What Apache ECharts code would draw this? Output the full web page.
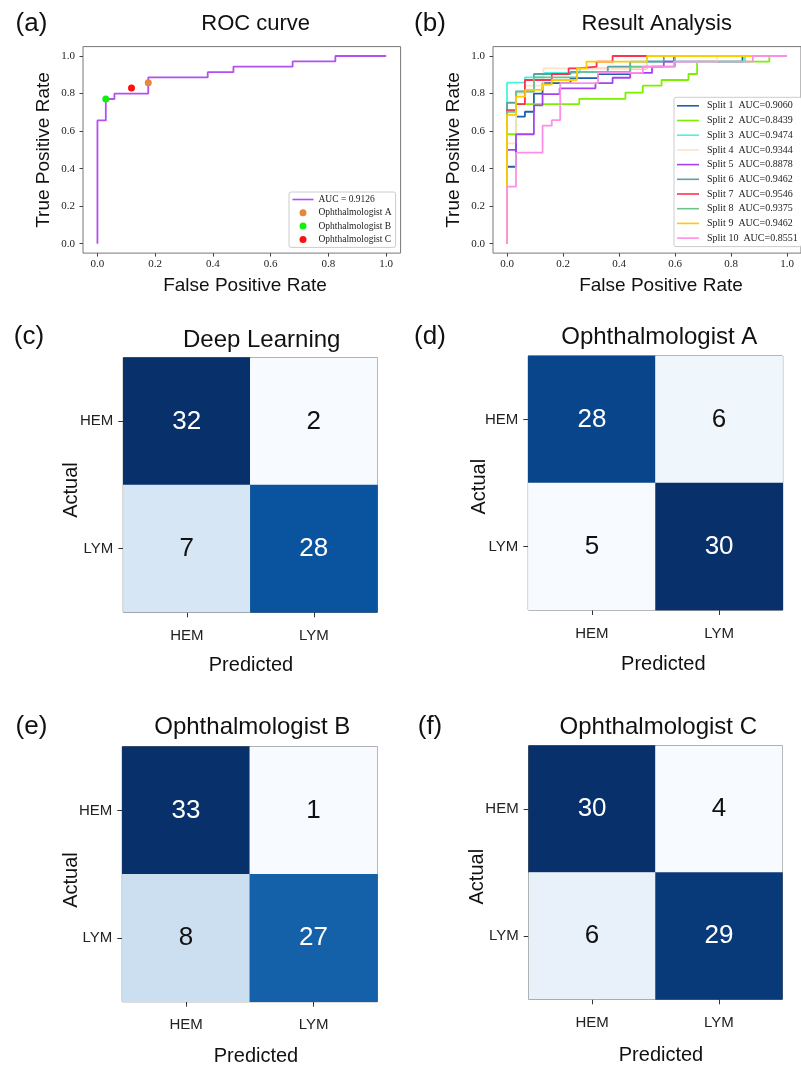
<!DOCTYPE html>
<html><head><meta charset="utf-8">
<script src="https://cdn.jsdelivr.net/npm/echarts@6/dist/echarts.min.js"></script>
<style>html,body{margin:0;padding:0;background:#fff}#c{width:801px;height:1068px}</style>
</head><body><div id="c"></div>
<script>
// ---------- data ----------
const rocTicks = [0, 0.2, 0.4, 0.6, 0.8, 1.0];
const rocName = 'AUC = 0.9126';
const rocFpr = [0, 0, 0.029, 0.029, 0.059, 0.059, 0.176, 0.176, 0.382, 0.382, 0.471, 0.471, 0.676, 0.676, 0.824, 0.824, 1.0];
const rocTpr = [0, 0.657, 0.657, 0.771, 0.771, 0.800, 0.800, 0.886, 0.886, 0.914, 0.914, 0.943, 0.943, 0.971, 0.971, 1.0, 1.0];
const doctorNames = ['Ophthalmologist A', 'Ophthalmologist B', 'Ophthalmologist C'];
const doctorFpr = [0.176, 0.029, 0.118];
const doctorTpr = [0.857, 0.771, 0.829];

const splitNames = ['Split 1  AUC=0.9060', 'Split 2  AUC=0.8439', 'Split 3  AUC=0.9474', 'Split 4  AUC=0.9344', 'Split 5  AUC=0.8878',
  'Split 6  AUC=0.9462', 'Split 7  AUC=0.9546', 'Split 8  AUC=0.9375', 'Split 9  AUC=0.9462', 'Split 10  AUC=0.8551'];
const split1Fpr = [0, 0, 0.032, 0.032, 0.064, 0.064, 0.096, 0.096, 0.127, 0.127, 0.227, 0.227, 0.325, 0.325, 0.44, 0.44, 0.5, 0.5, 0.841, 0.841, 1];
const split1Tpr = [0, 0.41, 0.41, 0.677, 0.677, 0.703, 0.703, 0.80, 0.80, 0.855, 0.855, 0.882, 0.882, 0.904, 0.904, 0.934, 0.934, 0.97, 0.97, 1, 1];
const split2Fpr = [0, 0, 0.032, 0.032, 0.258, 0.258, 0.423, 0.423, 0.485, 0.485, 0.552, 0.552, 0.648, 0.648, 0.679, 0.679, 0.937, 0.937, 1];
const split2Tpr = [0, 0.583, 0.583, 0.744, 0.744, 0.772, 0.772, 0.805, 0.805, 0.842, 0.842, 0.872, 0.872, 0.904, 0.904, 0.97, 0.97, 1, 1];
const split3Fpr = [0, 0, 0.064, 0.064, 0.13, 0.13, 0.26, 0.26, 0.44, 0.44, 0.5, 0.5, 0.85, 0.85, 1];
const split3Tpr = [0, 0.858, 0.858, 0.886, 0.886, 0.91, 0.91, 0.934, 0.934, 0.943, 0.943, 0.97, 0.97, 1, 1];
const split4Fpr = [0, 0, 0.032, 0.032, 0.065, 0.065, 0.13, 0.13, 0.5, 0.5, 0.75, 0.75, 1];
const split4Tpr = [0, 0.535, 0.535, 0.80, 0.80, 0.842, 0.842, 0.934, 0.934, 0.97, 0.97, 1, 1];
const split5Fpr = [0, 0, 0.032, 0.032, 0.096, 0.096, 0.127, 0.127, 0.188, 0.188, 0.316, 0.316, 0.377, 0.377, 0.44, 0.44, 0.518, 0.518, 0.56, 0.56, 0.596, 0.596, 1];
const split5Tpr = [0, 0.5, 0.5, 0.583, 0.583, 0.737, 0.737, 0.797, 0.797, 0.828, 0.828, 0.855, 0.855, 0.884, 0.884, 0.91, 0.91, 0.943, 0.943, 0.97, 0.97, 1, 1];
const split6Fpr = [0, 0, 0.032, 0.032, 0.096, 0.096, 0.227, 0.227, 0.36, 0.36, 0.44, 0.44, 0.56, 0.56, 1];
const split6Tpr = [0, 0.751, 0.751, 0.811, 0.811, 0.904, 0.904, 0.915, 0.915, 0.943, 0.943, 0.97, 0.97, 1, 1];
const split7Fpr = [0, 0, 0.032, 0.032, 0.064, 0.064, 0.16, 0.16, 0.22, 0.22, 0.252, 0.252, 0.32, 0.32, 0.377, 0.377, 1];
const split7Tpr = [0, 0.712, 0.712, 0.744, 0.744, 0.872, 0.872, 0.904, 0.904, 0.934, 0.934, 0.943, 0.943, 0.97, 0.97, 1, 1];
const split8Fpr = [0, 0, 0.032, 0.032, 0.096, 0.096, 0.25, 0.25, 0.44, 0.44, 0.6, 0.6, 1];
const split8Tpr = [0, 0.703, 0.703, 0.81, 0.81, 0.886, 0.886, 0.915, 0.915, 0.943, 0.943, 1, 1];
const split9Fpr = [0, 0, 0.032, 0.032, 0.065, 0.065, 0.127, 0.127, 0.16, 0.16, 0.25, 0.25, 0.284, 0.284, 0.5, 0.5, 1];
const split9Tpr = [0, 0.686, 0.686, 0.783, 0.783, 0.82, 0.82, 0.848, 0.848, 0.872, 0.872, 0.934, 0.934, 0.97, 0.97, 1, 1];
const split10Fpr = [0, 0, 0.032, 0.032, 0.127, 0.127, 0.16, 0.16, 0.19, 0.19, 0.325, 0.325, 0.485, 0.485, 0.596, 0.596, 0.878, 0.878, 1];
const split10Tpr = [0, 0.304, 0.304, 0.485, 0.485, 0.629, 0.629, 0.658, 0.658, 0.855, 0.855, 0.91, 0.91, 0.943, 0.943, 0.97, 0.97, 1, 1];
const splitFprs = [split1Fpr, split2Fpr, split3Fpr, split4Fpr, split5Fpr, split6Fpr, split7Fpr, split8Fpr, split9Fpr, split10Fpr];
const splitTprs = [split1Tpr, split2Tpr, split3Tpr, split4Tpr, split5Tpr, split6Tpr, split7Tpr, split8Tpr, split9Tpr, split10Tpr];

const cmLabels = ['HEM', 'LYM'];
const cmTitles = ['Deep Learning', 'Ophthalmologist A', 'Ophthalmologist B', 'Ophthalmologist C'];
const cmDeep = [[32, 2], [7, 28]];
const cmA = [[28, 6], [5, 30]];
const cmB = [[33, 1], [8, 27]];
const cmC = [[30, 4], [6, 29]];

// ---------- styles ----------
const splitColors = ['#1f5fae', '#7cf000', '#48f4dc', '#fde2c8', '#a642f0', '#5aa3a3', '#fb3350', '#6cc48c', '#ffcc00', '#ff8ee6'];
const rocColor = '#b450f2';
const doctorColors = ['#e8873c', '#11ee11', '#ff1010'];
const blues = ['#f7fbff', '#deebf7', '#c6dbef', '#9ecae1', '#6baed6', '#4292c6', '#2171b5', '#08519c', '#08306b'];
const SERIF = '"Liberation Serif", "Times New Roman", serif';
const SANS = '"Liberation Sans", Arial, sans-serif';

const grids = [
  { left: 83, top: 46.6, width: 317.6, height: 206.5 },
  { left: 493, top: 46.6, width: 317.5, height: 206.5 },
  { left: 123.3, top: 357.7, width: 254, height: 254.6 },
  { left: 528.3, top: 356, width: 254.4, height: 254 },
  { left: 122.3, top: 746.7, width: 255, height: 255 },
  { left: 528.7, top: 745.7, width: 253.6, height: 253.6 }
].map(g => Object.assign({ show: true, borderColor: '#777', borderWidth: 1, backgroundColor: 'transparent', containLabel: false }, g));
grids.slice(2).forEach(g => { g.borderColor = '#444'; });

function rocAxis(gi, isY) {
  return {
    type: 'value', gridIndex: gi, min: -0.05, max: 1.05,
    position: isY ? 'left' : 'bottom',
    splitLine: { show: false }, axisLine: { show: false, onZero: false },
    axisTick: { show: true, customValues: rocTicks, length: 3.5, lineStyle: { color: '#444' } },
    axisLabel: { customValues: rocTicks, formatter: v => v.toFixed(1), fontFamily: SERIF, fontSize: 11, color: '#222', margin: isY ? 8 : 6 }
  };
}
function cmAxis(gi, isY) {
  return {
    type: 'category', gridIndex: gi, data: cmLabels, inverse: !!isY,
    axisLine: { show: false, onZero: false }, splitLine: { show: false }, splitArea: { show: false },
    axisTick: { show: true, alignWithLabel: true, length: 5, lineStyle: { color: '#333' } },
    axisLabel: { fontFamily: SANS, fontSize: 15, color: '#222', margin: isY ? 10 : 16 }
  };
}

const xAxes = [rocAxis(0), rocAxis(1)];
const yAxes = [rocAxis(0, true), rocAxis(1, true)];
for (let g = 2; g < 6; g++) { xAxes.push(cmAxis(g)); yAxes.push(cmAxis(g, true)); }

const series = [];
series.push({
  name: rocName, type: 'line', xAxisIndex: 0, yAxisIndex: 0, showSymbol: false, symbol: 'none',
  data: rocFpr.map((f, i) => [f, rocTpr[i]]),
  lineStyle: { color: rocColor, width: 1.8 }, itemStyle: { color: rocColor }
});
doctorNames.forEach((n, i) => series.push({
  name: n, type: 'scatter', xAxisIndex: 0, yAxisIndex: 0, symbolSize: 7,
  data: [[doctorFpr[i], doctorTpr[i]]], itemStyle: { color: doctorColors[i], opacity: 1 }, z: 5
}));
splitNames.forEach((n, i) => series.push({
  name: n, type: 'line', xAxisIndex: 1, yAxisIndex: 1, showSymbol: false, symbol: 'none',
  data: splitFprs[i].map((f, j) => [f, splitTprs[i][j]]),
  lineStyle: { color: splitColors[i], width: 1.8 }, itemStyle: { color: splitColors[i] }
}));

const cms = [cmDeep, cmA, cmB, cmC];
const visualMaps = [];
cms.forEach((m, k) => {
  const vals = m.flat();
  const lo = Math.min(...vals), hi = Math.max(...vals);
  const data = [];
  m.forEach((row, r) => row.forEach((v, c) => data.push({
    value: [c, r, v], label: { color: v > (lo + hi) / 2 ? '#ffffff' : '#111111' }
  })));
  visualMaps.push({ type: 'continuous', show: false, seriesIndex: series.length, min: lo, max: hi, dimension: 2, inRange: { color: blues } });
  series.push({
    type: 'heatmap', xAxisIndex: 2 + k, yAxisIndex: 2 + k, data,
    label: { show: true, fontFamily: SANS, fontSize: 26 },
    itemStyle: { borderWidth: 0 }, emphasis: { disabled: true }
  });
});

// ---------- text ----------
function txt(text, x, y, size, opts) {
  return Object.assign({
    type: 'text', x, y, silent: true,
    style: { text, fontFamily: SANS, fontSize: size, fill: '#111', align: 'center', verticalAlign: 'middle' }
  }, opts || {});
}
function vtxt(text, x, y, size) { return txt(text, x, y, size, { rotation: Math.PI / 2 }); }

const graphics = [
  txt('(a)', 31.5, 24, 26), txt('(b)', 430, 24, 26),
  txt('(c)', 29, 337, 26), txt('(d)', 430, 337, 26),
  txt('(e)', 31.5, 727, 26), txt('(f)', 430, 727, 26),
  txt('ROC curve', 255.7, 24, 22), txt('Result Analysis', 656.7, 24, 22),
  vtxt('True Positive Rate', 43.5, 150, 19), vtxt('True Positive Rate', 453.5, 150, 19),
  txt('False Positive Rate', 245, 286, 19), txt('False Positive Rate', 661, 286, 19),
  txt(cmTitles[0], 261.7, 340, 24), txt(cmTitles[1], 659.3, 337.5, 24),
  txt(cmTitles[2], 252.3, 727, 24), txt(cmTitles[3], 658.3, 727, 24),
  txt('Predicted', 251, 665, 20), txt('Predicted', 663.3, 664, 20),
  txt('Predicted', 256, 1056.5, 20), txt('Predicted', 661, 1055, 20),
  vtxt('Actual', 71.7, 490, 20), vtxt('Actual', 479, 486.7, 20),
  vtxt('Actual', 71.7, 880, 20), vtxt('Actual', 477.3, 876.7, 20)
];

const option = {
  animation: false,
  backgroundColor: '#ffffff',
  grid: grids, xAxis: xAxes, yAxis: yAxes, series, visualMap: visualMaps,
  legend: [
    {
      orient: 'vertical', left: 289, top: 192, padding: [1.5, 4, 2, 3.5],
      data: [{ name: rocName, icon: 'path://M0,3 L21,3 L21,4.6 L0,4.6 Z' }].concat(doctorNames.map(n => ({ name: n, icon: 'circle' }))),
      itemWidth: 21, itemHeight: 7, itemGap: 1.3,
      textStyle: { fontFamily: SERIF, fontSize: 9.5, color: '#222', lineHeight: 12 },
      backgroundColor: '#fff', borderColor: '#ccc', borderWidth: 1, borderRadius: 2,
      selectedMode: false
    },
    {
      orient: 'vertical', left: 674, top: 97.3, padding: [2, 4, 2, 3],
      data: splitNames.map(n => ({ name: n, icon: 'path://M0,3 L22,3 L22,4.6 L0,4.6 Z' })),
      itemWidth: 22, itemHeight: 7, itemGap: 1.7,
      textStyle: { fontFamily: SERIF, fontSize: 10, color: '#222', lineHeight: 13, padding: [0, 0, 0, 3] },
      backgroundColor: '#fff', borderColor: '#ccc', borderWidth: 1, borderRadius: 2,
      selectedMode: false
    }
  ],
  graphic: graphics
};
const chart = echarts.init(document.getElementById('c'), null, { renderer: 'canvas', width: 801, height: 1068 });
chart.setOption(option);
</script></body></html>
